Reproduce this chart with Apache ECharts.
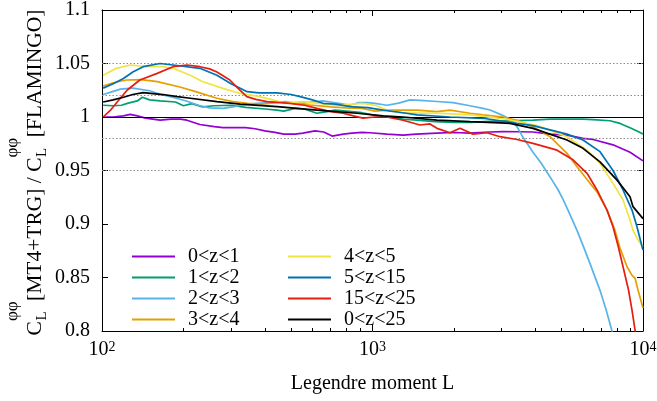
<!DOCTYPE html>
<html><head><meta charset="utf-8">
<script src="https://cdn.jsdelivr.net/npm/echarts@6/dist/echarts.min.js"></script>
<style>html,body{margin:0;padding:0;background:#fff}#c{width:657px;height:401px}</style>
</head><body><div id="c"></div>
<script>
// ---------------- data ----------------
const seriesNames = ['0<z<1','1<z<2','2<z<3','3<z<4','4<z<5','5<z<15','15<z<25','0<z<25'];
const seriesColors = ['#9400d3','#009e73','#56b4e9','#e69f00','#f0e442','#0072b2','#e51e10','#000000'];

const z0_1 = [[101,1.000],[110,1.000],[120,1.001],[127,1.0025],[135,1.001],[145,0.999],[164,0.997],[180,0.998],[195,0.998],[206,0.997],[230,0.993],[260,0.991],[280,0.990],[300,0.990],[318,0.990],[340,0.990],[368,0.989],[400,0.987],[436,0.9857],[470,0.984],[517,0.984],[553,0.985],[613,0.987],[660,0.986],[709,0.9822],[780,0.984],[840,0.985],[915,0.9857],[979,0.9853],[1130,0.984],[1297,0.983],[1450,0.984],[1731,0.985],[2000,0.9855],[2293,0.985],[2700,0.986],[3037,0.9863],[3500,0.9862],[3921,0.986],[4532,0.984],[5236,0.983],[6000,0.980],[6536,0.979],[7747,0.974],[8953,0.967],[10000,0.959]];
const z1_2 = [[101,1.011],[110,1.0105],[118,1.011],[125,1.013],[135,1.015],[141,1.0185],[150,1.016],[164,1.015],[187,1.014],[200,1.0105],[215,1.0125],[235,1.0095],[260,1.0105],[300,1.011],[340,1.009],[400,1.0075],[443,1.0065],[470,1.0055],[517,1.008],[560,1.0075],[623,1.0035],[680,1.005],[727,1.0065],[800,1.0055],[915,1.004],[1000,1.002],[1130,1.000],[1300,0.998],[1460,0.997],[1700,0.9956],[2000,0.995],[2300,0.995],[2700,0.996],[3224,0.9965],[3921,0.997],[4532,0.998],[5236,0.998],[6001,0.998],[6536,0.9975],[7551,0.9965],[8224,0.994],[8953,0.990],[9500,0.987],[10000,0.984]];
const z2_3 = [[101,1.021],[110,1.024],[117,1.026],[130,1.027],[150,1.0245],[165,1.021],[185,1.018],[205,1.015],[230,1.0105],[250,1.0085],[280,1.008],[305,1.0095],[324,1.011],[374,1.0128],[455,1.014],[553,1.013],[656,1.015],[700,1.014],[760,1.0125],[825,1.011],[890,1.0135],[954,1.0135],[1021,1.0128],[1131,1.011],[1250,1.013],[1376,1.016],[1500,1.0155],[1731,1.0145],[1984,1.0135],[2293,1.0105],[2560,1.008],[2720,1.0065],[3000,1.002],[3224,0.998],[3421,0.991],[3601,0.981],[3921,0.967],[4200,0.957],[4532,0.944],[4852,0.932],[5063,0.923],[5300,0.912],[5702,0.894],[6000,0.880],[6370,0.863],[6935,0.838],[7300,0.820],[7681,0.800],[7760,0.795]];
const z3_4 = [[101,1.029],[110,1.032],[123,1.0346],[138,1.035],[150,1.034],[160,1.033],[194,1.028],[222,1.0237],[266,1.0175],[305,1.0143],[345,1.0128],[390,1.012],[440,1.0135],[475,1.0143],[520,1.012],[600,1.011],[700,1.0095],[800,1.0085],[915,1.008],[1021,1.0055],[1131,1.0065],[1297,1.0065],[1460,1.0065],[1731,1.005],[1934,1.0065],[2293,1.0035],[2562,1.002],[3037,1.000],[3421,0.997],[3921,0.991],[4532,0.9816],[5236,0.966],[5702,0.9535],[6370,0.938],[6761,0.930],[7362,0.913],[7880,0.894],[8224,0.8776],[8729,0.860],[9107,0.852],[9342,0.8495],[9583,0.8383],[10000,0.8215]];
const z4_5 = [[101,1.039],[113,1.0455],[127,1.0486],[147,1.047],[168,1.047],[183,1.0455],[212,1.039],[236,1.033],[280,1.0268],[324,1.022],[374,1.0195],[420,1.0165],[475,1.0128],[549,1.0143],[620,1.013],[727,1.011],[840,1.012],[915,1.0128],[1021,1.011],[1131,1.0065],[1297,1.0037],[1731,1.0037],[2293,1.002],[2960,0.9988],[3421,0.996],[4057,0.992],[5236,0.9816],[6209,0.969],[6935,0.9567],[7747,0.938],[8437,0.9224],[8953,0.9037],[9185,0.894],[9583,0.885],[10000,0.879]];
const z5_15 = [[101,1.027],[110,1.031],[120,1.036],[130,1.042],[142,1.047],[164,1.050],[183,1.0486],[230,1.0455],[266,1.039],[300,1.031],[316,1.0283],[344,1.0237],[380,1.0225],[444,1.0225],[500,1.021],[540,1.019],[600,1.016],[656,1.0128],[730,1.012],[826,1.0097],[960,1.0087],[1094,1.0065],[1297,1.004],[1460,1.002],[1934,1.000],[2562,0.9988],[3421,0.994],[3921,0.992],[4532,0.988],[5236,0.984],[6001,0.9785],[6935,0.9676],[7747,0.950],[8437,0.9318],[9107,0.913],[9502,0.8975],[9915,0.879],[10000,0.8757]];
const z15_25 = [[101,1.000],[108,1.007],[114,1.0143],[124,1.0252],[138,1.0346],[160,1.0408],[183,1.047],[206,1.0486],[230,1.047],[250,1.045],[266,1.042],[297,1.0346],[315,1.028],[343,1.019],[370,1.0165],[407,1.0143],[495,1.0128],[560,1.011],[623,1.008],[700,1.005],[778,1.0035],[850,1.001],[922,0.999],[1021,1.000],[1131,1.000],[1297,0.997],[1498,0.9925],[1632,0.9935],[1731,0.9894],[1934,0.9853],[2106,0.9894],[2352,0.984],[2651,0.9853],[2960,0.9816],[3421,0.979],[3921,0.9754],[4810,0.969],[5512,0.960],[6209,0.9474],[6761,0.9318],[7362,0.913],[7747,0.8975],[8100,0.879],[8437,0.860],[8840,0.8383],[9107,0.8196],[9342,0.801],[9420,0.795]];
const z0_25 = [[101,1.014],[110,1.016],[120,1.0185],[130,1.021],[142,1.0227],[168,1.021],[190,1.019],[212,1.0175],[266,1.0143],[324,1.012],[444,1.0097],[623,1.0065],[877,1.0035],[1094,1.001],[1297,1.000],[1731,0.997],[2293,0.9956],[2960,0.9945],[3224,0.994],[3921,0.9894],[5236,0.9785],[6001,0.9707],[6935,0.958],[8016,0.941],[8953,0.9255],[9185,0.9162],[10000,0.905]];
const seriesData = [z0_1, z1_2, z2_3, z3_4, z4_5, z5_15, z15_25, z0_25];

const xRange = [100, 10000];
const yRange = [0.8, 1.1];
const yStep = 0.05;
const dottedRefs = [1.05, 1.02, 0.98, 0.95];
const solidRef = 1.0;
const minorTicksL = [200,300,400,500,600,700,800,900,2000,3000,4000,5000,6000,7000,8000,9000];
const xTitle = 'Legendre moment L';

// ---------------- chart ----------------
const FAMILY = '"Liberation Serif", "Times New Roman", serif';
const FONT = FAMILY;
const chart = echarts.init(document.getElementById('c'), null, {renderer: 'canvas'});

const minorLog = minorTicksL.map(v => Math.log10(v));
const black = '#000';

function majorX(pos, showLabel) {
  return {
    type: 'log', logBase: 10, min: xRange[0], max: xRange[1], position: pos,
    axisLine: {show: true, onZero: false, lineStyle: {color: black, width: 1}},
    axisTick: {show: true, inside: true, length: 6, lineStyle: {color: black}},
    splitLine: {show: false}, minorTick: {show: false},
    axisLabel: showLabel ? {
      show: true, margin: 9, color: black,
      formatter: v => '{b|10}{s|' + Math.round(Math.log10(v)) + '}',
      rich: {
        b: {fontSize: 20, fontFamily: FONT, color: black, lineHeight: 20, padding: [4, 0, 0, 0], verticalAlign: 'bottom'},
        s: {fontSize: 14, fontFamily: FONT, color: black, lineHeight: 14, verticalAlign: 'top'}
      }
    } : {show: false},
    name: showLabel ? xTitle : '', nameLocation: 'middle', nameGap: 43,
    nameTextStyle: {fontSize: 20, fontFamily: FONT, color: black}
  };
}
function minorX(pos) {
  return {
    type: 'value', min: 2, max: 4, position: pos,
    axisLine: {show: false, onZero: false},
    axisTick: {show: true, inside: true, length: 3, customValues: minorLog, lineStyle: {color: black}},
    axisLabel: {show: false}, splitLine: {show: false}
  };
}
function yAx(pos, showLabel) {
  return {
    type: 'value', min: yRange[0], max: yRange[1], interval: yStep, position: pos,
    axisLine: {show: true, onZero: false, lineStyle: {color: black, width: 1}},
    axisTick: {show: true, inside: true, length: 6, lineStyle: {color: black}},
    splitLine: {show: false},
    axisLabel: showLabel ? {show: true, margin: 12, fontSize: 20, fontFamily: FONT, color: black,
      formatter: v => String(+v.toFixed(2))} : {show: false}
  };
}

const series = seriesData.map((d, i) => ({
  name: seriesNames[i], type: 'line', data: d, xAxisIndex: 0, yAxisIndex: 0,
  showSymbol: false, symbol: 'none', smooth: false,
  lineStyle: {color: seriesColors[i], width: 1.7}, itemStyle: {color: seriesColors[i]},
  emphasis: {disabled: true}, z: 3 + i
}));
series.unshift({
  type: 'line', data: [], xAxisIndex: 0, yAxisIndex: 0, z: 1, silent: true,
  markLine: {
    silent: true, symbol: 'none', animation: false, label: {show: false},
    data: dottedRefs.map(v => ({yAxis: v, lineStyle: {type: [1.5, 2], color: '#8c8c8c', width: 1}}))
      .concat([{yAxis: solidRef, lineStyle: {type: 'solid', color: black, width: 1}}])
  }
});

// y-axis title with stacked sub/superscripts
const mctx = document.createElement('canvas').getContext('2d');
function tw(t, size) { mctx.font = size + 'px ' + FAMILY; return mctx.measureText(t).width; }
const mainSize = 21.5, subSize = 15, supSize = 17;
const yMain = 35, ySup = 13, ySub = 42;
const parts = [];
let pos = 0;
function txt(t, x, y, size) {
  return {type: 'text', x: x, y: y,
    style: {text: t, fontSize: size, fontFamily: FAMILY, fill: black, align: 'left', verticalAlign: 'middle',
            textAlign: 'left', textVerticalAlign: 'middle'}};
}
function addMain(t) { parts.push(txt(t, pos, yMain, mainSize)); pos += tw(t, mainSize); }
function addSubSup(sub, sup) {
  parts.push(txt(sub, pos + 0.5, ySub, subSize));
  parts.push(txt(sup, pos, ySup, supSize));
  pos += Math.max(tw(sub, subSize), tw(sup, supSize)) + 0.5;
}
addMain('C'); addSubSup('L', 'φφ'); addMain('[MT4+TRG] / C'); addSubSup('L', 'φφ'); addMain('[FLAMINGO]');
const total = pos;
const centerY = 172.5;

const legendCommon = {
  orient: 'vertical', icon: 'rect', itemWidth: 43, itemHeight: 2, itemGap: 0,
  textStyle: {fontSize: 20, fontFamily: FONT, color: black, lineHeight: 21, padding: [0, 0, 0, 8]},
  selectedMode: false, top: 241
};

chart.setOption({
  animation: false,
  backgroundColor: '#fff',
  grid: {left: 102, right: 14, top: 10, bottom: 70, containLabel: false, outerBoundsMode: 'none'},
  xAxis: [majorX('bottom', true), majorX('top', false), minorX('bottom'), minorX('top')],
  yAxis: [yAx('left', true), yAx('right', false)],
  legend: [
    Object.assign({}, legendCommon, {left: 127, data: seriesNames.slice(0, 4)}),
    Object.assign({}, legendCommon, {left: 283, data: seriesNames.slice(4)})
  ],
  graphic: [{type: 'group', x: 0, y: centerY + total / 2, rotation: Math.PI / 2, children: parts}],
  series: series
});
</script>
</body></html>
